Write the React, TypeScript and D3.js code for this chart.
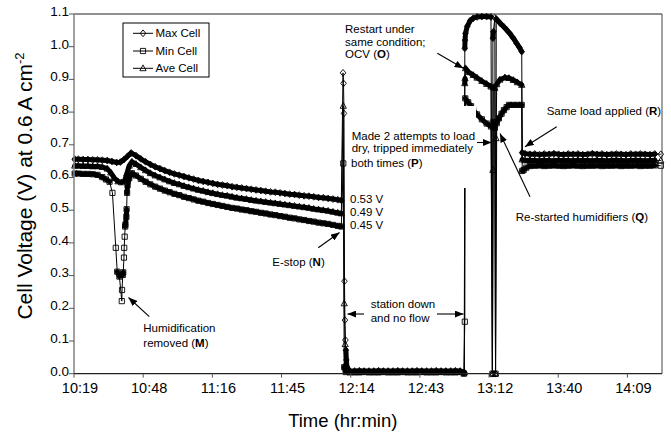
import React from "react";
import * as d3 from "d3";

// Each reading: [minutes after midnight, cell voltage in V]
type Pt = [number, number];

const maxCell: Pt[] = [
  [619.5, 0.656], [621, 0.656], [623, 0.655], [625, 0.655], [627, 0.654], [629, 0.654],
  [631, 0.653], [633, 0.652], [635, 0.649], [637, 0.646], [638.5, 0.647], [640, 0.655],
  [641.5, 0.665], [643, 0.675],
  [645, 0.667], [647, 0.657], [649, 0.648], [651, 0.64], [653, 0.633], [655, 0.627],
  [657, 0.621], [659, 0.616], [661, 0.611], [663, 0.607], [665, 0.603], [667, 0.599],
  [669, 0.595], [671, 0.591], [673, 0.588], [675, 0.585], [677, 0.582], [679, 0.579],
  [681, 0.577], [683, 0.575], [685, 0.572], [687, 0.57], [689, 0.568], [691, 0.566],
  [693, 0.564], [695, 0.562], [697, 0.56], [699, 0.558], [701, 0.556], [703, 0.555],
  [705, 0.553], [707, 0.551], [709, 0.549], [711, 0.548], [713, 0.546], [715, 0.544],
  [717, 0.543], [719, 0.541], [721, 0.539], [723, 0.538], [725, 0.536], [727, 0.534],
  [729, 0.532], [730.5, 0.53],
  [731.2, 0.92], [731.4, 0.888], [731.6, 0.796], [731.8, 0.283], [732.0, 0.164],
  [732.2, 0.103], [732.4, 0.072], [732.6, 0.042], [732.8, 0.02],
  [734, 0.008], [736, 0.008], [738, 0.009], [740, 0.008], [742, 0.008], [744, 0.008],
  [746, 0.009], [748, 0.008], [750, 0.008], [752, 0.008], [754, 0.009], [756, 0.008],
  [758, 0.008], [760, 0.008], [762, 0.009], [764, 0.008], [766, 0.008], [768, 0.008],
  [770, 0.009], [772, 0.008], [774, 0.008], [776, 0.008], [778, 0.009], [780, 0.008],
  [781.7, 0.004],
  [781.9, 0.995], [782.0, 1.02], [782.2, 1.041], [782.9, 1.062], [784.2, 1.08],
  [785.4, 1.087], [787, 1.091], [789, 1.092], [791, 1.092], [792.8, 1.091],
  [793.4, 0.0], [793.6, 1.026], [793.8, 1.046], [794.4, 1.088], [794.7, 0.0],
  [795.0, 1.085], [796.6, 1.072], [798, 1.062], [799.4, 1.051], [800.8, 1.039],
  [802.1, 1.026], [803.5, 1.01], [804.6, 0.998], [805.6, 0.985],
  [805.8, 0.676], [807, 0.673], [809, 0.671], [811, 0.672], [813, 0.67], [815, 0.672],
  [817, 0.671], [819, 0.673], [821, 0.671], [823, 0.67], [825, 0.672], [827, 0.671],
  [829, 0.672], [831, 0.67], [833, 0.671], [835, 0.673], [837, 0.671], [839, 0.672],
  [841, 0.67], [843, 0.671], [845, 0.672], [847, 0.671], [849, 0.67], [851, 0.672],
  [853, 0.671], [855, 0.672], [857, 0.671], [859, 0.67], [861, 0.672], [863.5, 0.671],
];

const minCell: Pt[] = [
  [619.5, 0.612], [621, 0.612], [623, 0.611], [625, 0.611], [627, 0.61], [629, 0.608],
  [631, 0.601], [632.5, 0.594], [634, 0.587], [635.2, 0.553], [636.6, 0.385],
  [637.2, 0.312], [638.1, 0.297], [639.1, 0.222], [639.2, 0.256], [639.5, 0.302],
  [639.7, 0.31], [640.0, 0.355], [640.1, 0.385], [640.3, 0.419], [640.5, 0.45],
  [640.6, 0.456], [641.0, 0.48], [641.1, 0.503], [641.3, 0.553], [641.5, 0.576],
  [642.2, 0.598], [643.3, 0.613],
  [645, 0.606], [647, 0.596], [649, 0.587], [651, 0.579], [653, 0.572], [655, 0.566],
  [657, 0.56], [659, 0.555], [661, 0.55], [663, 0.546], [665, 0.541], [667, 0.537],
  [669, 0.533], [671, 0.529], [673, 0.526], [675, 0.522], [677, 0.519], [679, 0.516],
  [681, 0.513], [683, 0.51], [685, 0.507], [687, 0.505], [689, 0.502], [691, 0.5],
  [693, 0.497], [695, 0.495], [697, 0.492], [699, 0.49], [701, 0.487], [703, 0.485],
  [705, 0.482], [707, 0.48], [709, 0.477], [711, 0.475], [713, 0.472], [715, 0.47],
  [717, 0.467], [719, 0.465], [721, 0.462], [723, 0.46], [725, 0.458], [727, 0.455],
  [729, 0.452], [730.5, 0.45],
  [731.3, 0.643], [731.7, 0.02], [732.3, 0.005],
  [734, 0.004], [736, 0.004], [738, 0.004], [740, 0.005], [742, 0.004], [744, 0.004],
  [746, 0.004], [748, 0.005], [750, 0.004], [752, 0.004], [754, 0.004], [756, 0.005],
  [758, 0.004], [760, 0.004], [762, 0.004], [764, 0.005], [766, 0.004], [768, 0.004],
  [770, 0.004], [772, 0.005], [774, 0.004], [776, 0.004], [778, 0.004], [780, 0.005],
  [781.5, 0.0],
  [781.9, 0.159], [782.1, 0.842], [783.3, 0.83], [784.5, 0.818], [785.4, 0.806],
  [787, 0.793], [789, 0.778], [791, 0.765], [792.8, 0.756], [793.4, 0.0], [793.8, 0.77],
  [794.4, 0.752], [794.7, 0.0], [795.2, 0.766], [796.1, 0.781], [797.2, 0.795],
  [798.2, 0.806], [799.3, 0.815], [800.3, 0.822], [802, 0.822], [803.8, 0.822],
  [805.6, 0.822],
  [805.8, 0.62], [806.4, 0.623], [807.5, 0.63], [809, 0.635], [811, 0.636], [813, 0.637],
  [815, 0.635], [817, 0.636], [819, 0.637], [821, 0.636], [823, 0.635], [825, 0.636],
  [827, 0.637], [829, 0.636], [831, 0.635], [833, 0.636], [835, 0.636], [837, 0.637],
  [839, 0.635], [841, 0.636], [843, 0.636], [845, 0.637], [847, 0.635], [849, 0.636],
  [851, 0.636], [853, 0.637], [855, 0.635], [857, 0.636], [859, 0.636], [861, 0.637],
  [863.5, 0.636],
];

const aveCell: Pt[] = [
  [619.5, 0.636], [621, 0.636], [623, 0.635], [625, 0.635], [627, 0.634], [629, 0.634],
  [631, 0.632], [633, 0.627], [634.5, 0.615], [636, 0.598], [637.5, 0.588], [639, 0.585],
  [640.3, 0.59], [641.2, 0.612], [642.2, 0.636], [643.3, 0.648],
  [645, 0.641], [647, 0.631], [649, 0.622], [651, 0.613], [653, 0.606], [655, 0.6],
  [657, 0.594], [659, 0.588], [661, 0.583], [663, 0.579], [665, 0.574], [667, 0.57],
  [669, 0.566], [671, 0.562], [673, 0.559], [675, 0.555], [677, 0.552], [679, 0.549],
  [681, 0.546], [683, 0.544], [685, 0.541], [687, 0.538], [689, 0.536], [691, 0.534],
  [693, 0.531], [695, 0.529], [697, 0.527], [699, 0.525], [701, 0.523], [703, 0.521],
  [705, 0.519], [707, 0.517], [709, 0.515], [711, 0.513], [713, 0.511], [715, 0.509],
  [717, 0.507], [719, 0.504], [721, 0.502], [723, 0.5], [725, 0.498], [727, 0.495],
  [729, 0.492], [730.5, 0.49],
  [731.3, 0.819], [731.7, 0.215], [732.1, 0.09], [732.5, 0.03], [733, 0.01],
  [734, 0.006], [736, 0.006], [738, 0.006], [740, 0.007], [742, 0.006], [744, 0.006],
  [746, 0.006], [748, 0.007], [750, 0.006], [752, 0.006], [754, 0.006], [756, 0.007],
  [758, 0.006], [760, 0.006], [762, 0.006], [764, 0.007], [766, 0.006], [768, 0.006],
  [770, 0.006], [772, 0.007], [774, 0.006], [776, 0.006], [778, 0.006], [780, 0.007],
  [781.7, 0.003],
  [781.9, 0.888], [782.0, 0.903], [782.2, 0.934], [783.5, 0.922], [785.4, 0.913],
  [787, 0.905], [789, 0.895], [791, 0.886], [792.8, 0.878], [793.4, 0.0], [793.6, 0.623],
  [793.8, 0.876], [794.4, 0.874], [794.7, 0.0], [794.9, 0.72], [795.2, 0.885],
  [796.5, 0.899], [798.6, 0.906], [800.3, 0.904], [802.1, 0.898], [803.8, 0.891],
  [805.6, 0.883],
  [805.8, 0.655], [807, 0.652], [809, 0.653], [811, 0.652], [813, 0.651], [815, 0.653],
  [817, 0.652], [819, 0.651], [821, 0.653], [823, 0.652], [825, 0.652], [827, 0.651],
  [829, 0.653], [831, 0.652], [833, 0.652], [835, 0.651], [837, 0.653], [839, 0.652],
  [841, 0.651], [843, 0.652], [845, 0.653], [847, 0.652], [849, 0.651], [851, 0.652],
  [853, 0.653], [855, 0.652], [857, 0.651], [859, 0.652], [861, 0.653], [863.5, 0.652],
];

// Axis ticks: times are Excel day fractions shown as hr:min
const xTickDays = [0.43, 0.45, 0.47, 0.49, 0.51, 0.53, 0.55, 0.57, 0.59];
const xTickLabels = ["10:19", "10:48", "11:16", "11:45", "12:14", "12:43", "13:12", "13:40", "14:09"];
const yTicks = [0, 0.1, 0.2, 0.3, 0.4, 0.5, 0.6, 0.7, 0.8, 0.9, 1.0, 1.1];

const seriesNames = ["Max Cell", "Min Cell", "Ave Cell"];
const endLabels = [0.53, 0.49, 0.45];

const FONT = "'Liberation Sans', Arial, Helvetica, sans-serif";
const W = 671;
const H = 433;
const P = { left: 74, right: 662, top: 14, bottom: 373.7 };

type Shape = "diamond" | "square" | "triangle";

function markerPath(shape: Shape): string {
  if (shape === "diamond") return "M0,-3.4L2.8,0L0,3.4L-2.8,0Z";
  if (shape === "square") return "M-2.6,-2.6H2.6V2.6H-2.6Z";
  return "M0,-3.4L3.1,2.4H-3.1Z";
}

function Marker({ shape, x, y }: { shape: Shape; x: number; y: number }) {
  return (
    <path
      d={markerPath(shape)}
      transform={`translate(${x},${y})`}
      fill="none"
      stroke="#000"
      strokeWidth={0.9}
    />
  );
}

function Label({
  x, y, text, bold, size = 11.5,
}: { x: number; y: number; text: string; bold?: string; size?: number }) {
  return (
    <text x={x} y={y} fontSize={size} fontFamily={FONT} fill="#000">
      {text}
      {bold ? (
        <>
          (<tspan fontWeight="bold">{bold}</tspan>)
        </>
      ) : null}
    </text>
  );
}

export default function App() {
  const x = d3.scaleLinear().domain([0.43 * 1440, 0.6 * 1440]).range([P.left, P.right]);
  const y = d3.scaleLinear().domain([0, 1.1]).range([P.bottom, P.top]);
  const line = d3.line<Pt>().x((d) => x(d[0])).y((d) => y(d[1]));

  const series: { data: Pt[]; shape: Shape }[] = [
    { data: maxCell, shape: "diamond" },
    { data: minCell, shape: "square" },
    { data: aveCell, shape: "triangle" },
  ];

  // Densely logged stretches merge into a solid band of markers
  const bandPath = (data: Pt[]) => {
    const p = d3.path();
    for (let i = 1; i < data.length; i++) {
      const [t0, v0] = data[i - 1];
      const [t1, v1] = data[i];
      if (t1 - t0 <= 2.2 && Math.abs(v1 - v0) <= 0.03) {
        p.moveTo(x(t0), y(v0));
        p.lineTo(x(t1), y(v1));
      }
    }
    return p.toString();
  };

  const arrows: [number, number, number, number][] = [
    [149.3, 316.7, 128.5, 297.5],
    [318.3, 247.7, 339.5, 232.5],
    [364, 314, 347.5, 314],
    [437, 314, 463.5, 314],
    [437.3, 53.3, 463.3, 68.3],
    [477, 142.5, 491.5, 142.5],
    [530, 196.7, 500, 133.5],
    [556.7, 126.7, 525, 146.7],
  ];

  return (
    <svg
      width={W}
      height={H}
      viewBox={`0 0 ${W} ${H}`}
      style={{ position: "absolute", left: 0, top: 0, background: "#fff" }}
    >
      <defs>
        <marker
          id="head"
          viewBox="0 0 10 8"
          refX="10"
          refY="4"
          markerWidth="9"
          markerHeight="7"
          markerUnits="userSpaceOnUse"
          orient="auto"
        >
          <path d="M0,0L10,4L0,8Z" fill="#000" />
        </marker>
      </defs>
      <rect x={0} y={0} width={W} height={H} fill="#fff" />

      {/* frame */}
      <line x1={P.left} x2={P.right} y1={P.top} y2={P.top} stroke="#222" strokeWidth={1} />
      <line x1={P.right} x2={P.right} y1={P.top} y2={P.bottom} stroke="#444" strokeWidth={1} />

      {/* series */}
      {series.map((s, i) => (
        <g key={i}>
          <path d={line(s.data) ?? ""} fill="none" stroke="#000" strokeWidth={1} />
          <path d={bandPath(s.data)} fill="none" stroke="#000" strokeWidth={5} strokeLinecap="round" />
          {s.data.map((d, j) => (
            <Marker key={j} shape={s.shape} x={x(d[0])} y={y(d[1])} />
          ))}
        </g>
      ))}

      {/* axes */}
      <line x1={P.left} x2={P.left} y1={P.top} y2={P.bottom} stroke="#8a8a8a" strokeWidth={1.6} />
      <line x1={P.left} x2={P.right} y1={P.bottom} y2={P.bottom} stroke="#222" strokeWidth={1.2} />
      {yTicks.map((v) => (
        <g key={v}>
          <line x1={P.left - 5} x2={P.left} y1={y(v)} y2={y(v)} stroke="#555" strokeWidth={1} />
          <text
            x={P.left - 5}
            y={y(v) + 1.8}
            textAnchor="end"
            fontSize={13.5}
            fontFamily={FONT}
            fill="#000"
          >
            {d3.format(".1f")(v)}
          </text>
        </g>
      ))}
      {xTickDays.map((dayFrac, i) => {
        const tx = x(dayFrac * 1440);
        return (
          <g key={dayFrac}>
            <line x1={tx} x2={tx} y1={P.bottom} y2={P.bottom + 4} stroke="#555" strokeWidth={1} />
            <text
              x={tx + 6}
              y={392.5}
              textAnchor="middle"
              fontSize={14.5}
              fontFamily={FONT}
              fill="#000"
            >
              {xTickLabels[i]}
            </text>
          </g>
        );
      })}

      {/* axis titles */}
      <text x={342.8} y={426.7} textAnchor="middle" fontSize={18.5} fontFamily={FONT} fill="#000">
        Time (hr:min)
      </text>
      <text
        transform="translate(31.5,186) rotate(-90)"
        textAnchor="middle"
        fontSize={21}
        fontFamily={FONT}
        fill="#000"
      >
        Cell Voltage (V) at 0.6 A cm
        <tspan fontSize={13} dy={-8}>-2</tspan>
      </text>

      {/* legend */}
      <rect x={123} y={23} width={86} height={54} fill="#fff" stroke="#000" strokeWidth={1} />
      {seriesNames.map((name, i) => {
        const ly = [33.3, 51, 68.3][i];
        return (
          <g key={name}>
            <line x1={133} x2={153} y1={ly} y2={ly} stroke="#000" strokeWidth={1} />
            <Marker shape={series[i].shape} x={143} y={ly} />
            <text x={155.5} y={ly + 4.1} fontSize={11.5} fontFamily={FONT} fill="#000">
              {name}
            </text>
          </g>
        );
      })}

      {/* annotation backing that hides the restart trace behind the text */}
      <rect x={348} y={106} width={128} height={82} fill="#fff" />

      {/* annotations */}
      <Label x={143.3} y={331.8} text="Humidification" />
      <Label x={143.3} y={346.8} text="removed " bold="M" />
      <Label x={272.3} y={266.4} text="E-stop " bold="N" />
      {endLabels.map((v) => (
        <text key={v} x={350} y={y(v) + 2.3} fontSize={11.5} fontFamily={FONT} fill="#000">
          {`${v.toFixed(2)} V`}
        </text>
      ))}
      <Label x={370.7} y={308.4} text="station down" />
      <Label x={370.7} y={322.4} text="and no flow" />
      <Label x={345} y={33.1} text="Restart under" />
      <Label x={345} y={45.8} text="same condition;" />
      <Label x={345} y={58.4} text="OCV " bold="O" />
      <Label x={351.7} y={139.8} text="Made 2 attempts to load" />
      <Label x={351.7} y={151.8} text="dry, tripped immediately" />
      <Label x={351} y={167.4} text="both times " bold="P" />
      <Label x={546.7} y={115.1} text="Same load applied " bold="R" />
      <Label x={515.7} y={220.8} text="Re-started humidifiers " bold="Q" />

      {arrows.map(([x1, y1, x2, y2], i) => (
        <line
          key={i}
          x1={x1}
          y1={y1}
          x2={x2}
          y2={y2}
          stroke="#000"
          strokeWidth={1.1}
          markerEnd="url(#head)"
        />
      ))}
    </svg>
  );
}
